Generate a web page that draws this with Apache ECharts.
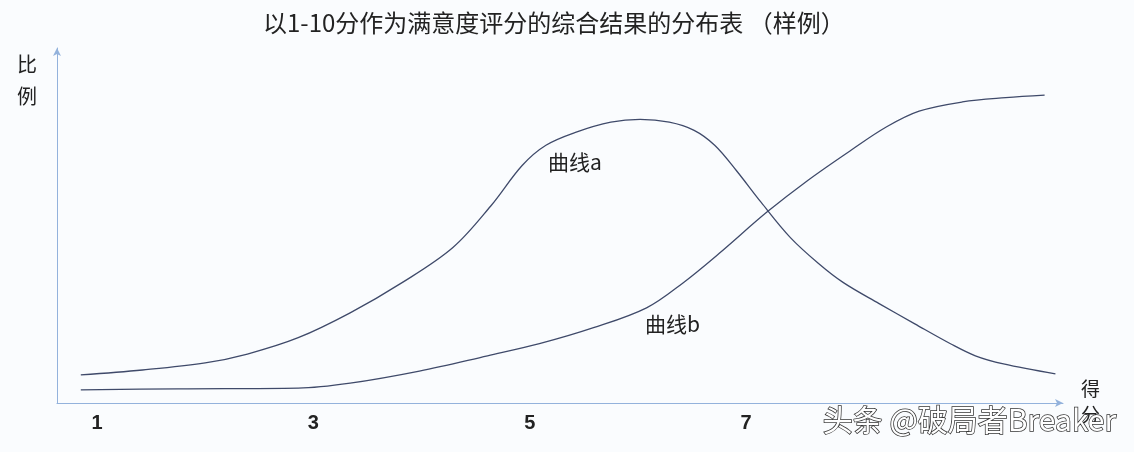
<!DOCTYPE html>
<html>
<head>
<meta charset="utf-8">
<script src="https://cdn.jsdelivr.net/npm/echarts@6/dist/echarts.min.js"></script>
<style>
html,body{margin:0;padding:0;background:#fafcfe;}
#c{width:1134px;height:452px;}
</style>
</head>
<body>
<div id="c"></div>
<script>
// Score (x) positions and proportion (y) values
const titleText = '以1-10分作为满意度评分的综合结果的分布表 （样例）';
const xTickLabels = [1, 3, 5, 7];
const curveAX = [0.85, 1.42, 2.0, 2.39, 2.86, 3.34, 3.82, 4.29, 4.64, 4.93, 5.15, 5.43, 5.75, 6.02, 6.29, 6.52, 6.71, 6.91, 7.14, 7.41, 7.67, 7.90, 8.23, 8.56, 8.89, 9.12, 9.38, 9.86];
const curveAY = [7.9, 9.3, 11.3, 13.8, 18.4, 25.4, 33.9, 43.8, 55.5, 66.9, 72.6, 76.3, 79.1, 79.9, 79.1, 76.8, 72.6, 65.5, 56.5, 46.6, 39.3, 33.9, 28.0, 22.3, 16.7, 13.3, 11.0, 8.2];
const curveBX = [0.85, 1.75, 2.86, 3.34, 3.98, 4.61, 5.09, 5.59, 6.08, 6.42, 6.75, 7.19, 7.57, 7.97, 8.30, 8.60, 9.00, 9.40, 9.76];
const curveBY = [3.7, 4.0, 4.2, 5.6, 9.0, 13.3, 16.7, 21.2, 26.8, 33.9, 42.1, 53.7, 62.7, 71.2, 77.8, 82.2, 84.8, 86.0, 86.7];
const seriesNames = ['曲线a', '曲线b'];

const pairs = (xs, ys) => xs.map((x, i) => [x, ys[i]]);
const FONT = '"Noto Sans CJK SC", "Noto Sans", sans-serif';

// main plotting grid spans x in [X_MIN, X_MAX]; a label grid spans exactly the labelled ticks
const X_MIN = 0.63, X_MAX = 9.93, GRID_L = 57, GRID_R = 71, W = 1134;
const pxPerUnit = (W - GRID_L - GRID_R) / (X_MAX - X_MIN);
const labL = GRID_L + (xTickLabels[0] - X_MIN) * pxPerUnit;
const labR = W - (GRID_L + (xTickLabels[xTickLabels.length - 1] - X_MIN) * pxPerUnit);

const chart = echarts.init(document.getElementById('c'), null, {renderer: 'canvas'});
chart.setOption({
  backgroundColor: '#fafcfe',
  animation: false,
  title: {
    text: titleText,
    left: 258,
    top: 6,
    textStyle: {fontFamily: FONT, fontSize: 24, fontWeight: 'normal', color: '#222'}
  },
  grid: [
    {left: GRID_L, right: GRID_R, top: 48, bottom: 49, containLabel: false},
    {left: labL, right: labR, top: 48, bottom: 49, containLabel: false}
  ],
  xAxis: [
    {
      type: 'value',
      gridIndex: 0,
      min: X_MIN,
      max: X_MAX,
      splitLine: {show: false},
      axisTick: {show: false},
      axisLabel: {show: false},
      axisLine: {lineStyle: {color: '#93b2dc', width: 1}, symbol: ['none', 'arrow'], symbolSize: [6, 8]}
    },
    {
      type: 'value',
      gridIndex: 1,
      min: xTickLabels[0],
      max: xTickLabels[xTickLabels.length - 1],
      interval: xTickLabels[1] - xTickLabels[0],
      splitLine: {show: false},
      axisTick: {show: false},
      axisLine: {show: false},
      axisLabel: {
        margin: 10,
        color: '#222',
        fontSize: 20,
        fontWeight: 'bold',
        fontFamily: 'Liberation Sans Narrow, Liberation Sans',
        showMinLabel: true,
        showMaxLabel: true
      }
    }
  ],
  yAxis: [
    {
      type: 'value',
      gridIndex: 0,
      min: 0,
      max: 100,
      splitLine: {show: false},
      axisTick: {show: false},
      axisLabel: {show: false},
      axisLine: {show: true, lineStyle: {color: '#93b2dc', width: 1}, symbol: ['none', 'arrow'], symbolSize: [6, 8]}
    },
    {type: 'value', gridIndex: 1, show: false, min: 0, max: 100, splitLine: {show: false}}
  ],
  series: [
    {
      name: seriesNames[0],
      type: 'line',
      xAxisIndex: 0,
      yAxisIndex: 0,
      data: pairs(curveAX, curveAY),
      smooth: 0.35,
      showSymbol: false,
      lineStyle: {color: '#3f4a6a', width: 1.3}
    },
    {
      name: seriesNames[1],
      type: 'line',
      xAxisIndex: 0,
      yAxisIndex: 0,
      data: pairs(curveBX, curveBY),
      smooth: 0.35,
      showSymbol: false,
      lineStyle: {color: '#3f4a6a', width: 1.3}
    }
  ],
  graphic: [
    {type: 'text', left: 17, top: 48, style: {text: '比\n例', font: '20px ' + FONT, fill: '#222', lineHeight: 32}},
    {type: 'text', left: 1081, top: 376, style: {text: '得\n分', font: '19px ' + FONT, fill: '#222', lineHeight: 26}},
    {type: 'text', left: 548, top: 152, style: {text: seriesNames[0], font: '21px ' + FONT, fill: '#222'}},
    {type: 'text', left: 645, top: 314, style: {text: seriesNames[1], font: '21px ' + FONT, fill: '#222'}},
    {type: 'text', left: 822, top: 404, z: 100, style: {text: '头条 @破局者Breaker', font: '30px ' + FONT, fill: '#ffffff', stroke: '#333333', lineWidth: 1.5}}
  ]
});
</script>
</body>
</html>
